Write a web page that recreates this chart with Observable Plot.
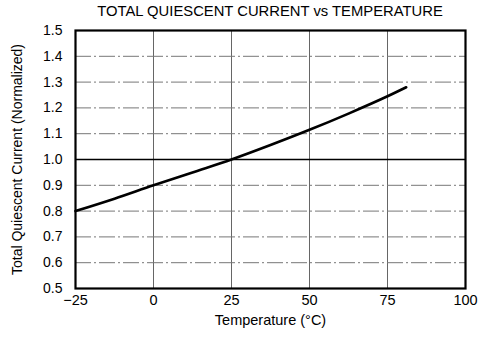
<!DOCTYPE html>
<html>
<head>
<meta charset="utf-8">
<script src="https://cdn.jsdelivr.net/npm/d3@7"></script>
<script src="https://cdn.jsdelivr.net/npm/@observablehq/plot@0.6"></script>
<style>
  body { margin: 0; background: #fff; font-family: "Liberation Sans", Arial, sans-serif; }
  #wrap { width: 486px; height: 346px; position: relative; }
  #title { height: 22px; width: 486px; position: relative; }
  #title span { position: absolute; left: 270px; top: 3px; transform: translateX(-50%); font-size: 14.8px; white-space: nowrap; color: #000; }
</style>
</head>
<body>
<div id="wrap">
  <div id="title"><span>TOTAL QUIESCENT CURRENT vs TEMPERATURE</span></div>
  <div id="chart"></div>
</div>
<script>
const temperature = [-25, -12.5, 0, 12.5, 25, 37.5, 50, 62.5, 75, 81];
const current = [0.80, 0.848, 0.90, 0.95, 1.00, 1.056, 1.115, 1.178, 1.245, 1.28];
const xTicks = [-25, 0, 25, 50, 75, 100];
const xTickLabels = ["\u221225", "0", "25", "50", "75", "100"];
const yTicks = [0.5, 0.6, 0.7, 0.8, 0.9, 1.0, 1.1, 1.2, 1.3, 1.4, 1.5];
const refLine = [1.0];

const data = temperature.map((t, i) => ({t, c: current[i]}));
const dashY = yTicks.filter(v => v !== 1.0 && v !== 0.5 && v !== 1.5);
const innerX = xTicks.filter(v => v !== -25 && v !== 100);

const chart = Plot.plot({
  width: 486,
  height: 324,
  marginTop: 8,
  marginBottom: 58,
  marginLeft: 75,
  marginRight: 21,
  style: { fontFamily: "'Liberation Sans', Arial, sans-serif", fontSize: "14px", color: "#000", background: "#fff" },
  x: { domain: [-25, 100] },
  y: { domain: [0.5, 1.5] },
  marks: [
    Plot.ruleX(innerX, { stroke: "#666", strokeWidth: 1 }),
    Plot.ruleY(dashY, { stroke: "#777", strokeWidth: 1, strokeDasharray: "16,3,2,3" }),
    Plot.ruleY(refLine, { stroke: "#000", strokeWidth: 1.3 }),
    Plot.line(data, { x: "t", y: "c", stroke: "#000", strokeWidth: 2.6, curve: "monotone-x" }),
    Plot.frame({ stroke: "#000", strokeWidth: 2.2 }),
    Plot.axisX({ ticks: xTicks, tickFormat: d => xTickLabels[xTicks.indexOf(d)], tickSize: 0, tickPadding: 6, label: "Temperature (°C)", labelAnchor: "center", labelArrow: "none", labelOffset: 36, fontSize: 14.5 }),
    Plot.axisY({ ticks: yTicks, tickFormat: d => d.toFixed(1), tickSize: 0, tickPadding: 13, label: "Total Quiescent Current (Normalized)", labelAnchor: "center", labelArrow: "none", labelOffset: 63, fontSize: 14 })
  ]
});
document.getElementById("chart").appendChild(chart);
</script>
</body>
</html>
